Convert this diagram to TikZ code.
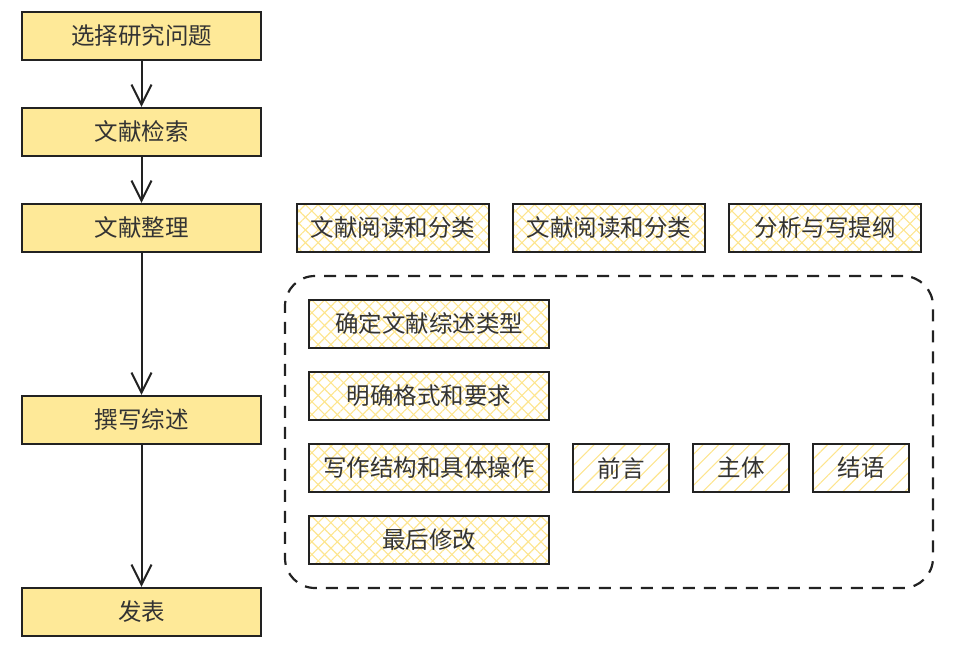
\documentclass[tikz,border=0pt]{standalone}
\usepackage{fontspec}
\setmainfont{Noto Sans CJK SC}
\usetikzlibrary{arrows.meta,patterns.meta}
\definecolor{boxfill}{HTML}{FEE998}
\definecolor{hatch}{HTML}{FDE58E}
\definecolor{ink}{HTML}{222222}
\definecolor{txt}{HTML}{333333}
\tikzset{
  lbl/.style={text=txt, font=\fontsize{23.5pt}{26pt}\selectfont},
  mainbox/.style={lbl, draw=ink, line width=2.4pt, fill=boxfill, minimum width=239pt, minimum height=48pt, inner sep=0pt},
  xbox/.style={lbl, draw=ink, line width=2.4pt, minimum height=48pt, inner sep=0pt,
    preaction={pattern={Lines[angle=45,distance=9pt,line width=1.1pt]}, pattern color=hatch},
    pattern={Lines[angle=-45,distance=9pt,line width=1.1pt]}, pattern color=hatch},
  dbox/.style={lbl, draw=ink, line width=2.4pt, minimum height=48pt, inner sep=0pt,
    pattern={Lines[angle=45,distance=11pt,line width=1.1pt]}, pattern color=hatch},
  flow/.style={draw=ink, line width=2pt, -{Straight Barb[length=20pt,width=20pt,line width=2pt]}},
}
\begin{document}
\begin{tikzpicture}[x=1pt,y=-1pt]
\useasboundingbox (0,0) rectangle (954,650);
\node[mainbox] (s1) at (141.5,36) {选择研究问题};
\node[mainbox] (s2) at (141.5,132) {文献检索};
\node[mainbox] (s3) at (141.5,228) {文献整理};
\node[mainbox] (s4) at (141.5,420) {撰写综述};
\node[mainbox] (s5) at (141.5,612) {发表};
\draw[flow] (s1) -- (s2);
\draw[flow] (s2) -- (s3);
\draw[flow] (s3) -- (s4);
\draw[flow] (s4) -- (s5);
\node[xbox, minimum width=192pt] (r1) at (393,228) {文献阅读和分类};
\node[xbox, minimum width=192pt] (r2) at (609,228) {文献阅读和分类};
\node[xbox, minimum width=192pt] (r3) at (825,228) {分析与写提纲};
\node[draw=ink, line width=2.2pt, dash pattern=on 12pt off 9pt, rounded corners=30pt, minimum width=648pt, minimum height=312pt, inner sep=0pt] (grp) at (609,432) {};
\node[xbox, minimum width=240pt] (w1) at (429,324) {确定文献综述类型};
\node[xbox, minimum width=240pt] (w2) at (429,396) {明确格式和要求};
\node[xbox, minimum width=240pt] (w3) at (429,468) {写作结构和具体操作};
\node[xbox, minimum width=240pt] (w4) at (429,540) {最后修改};
\node[dbox, minimum width=96pt] (p1) at (621,468) {前言};
\node[dbox, minimum width=96pt] (p2) at (741,468) {主体};
\node[dbox, minimum width=96pt] (p3) at (861,468) {结语};
\end{tikzpicture}
\end{document}
